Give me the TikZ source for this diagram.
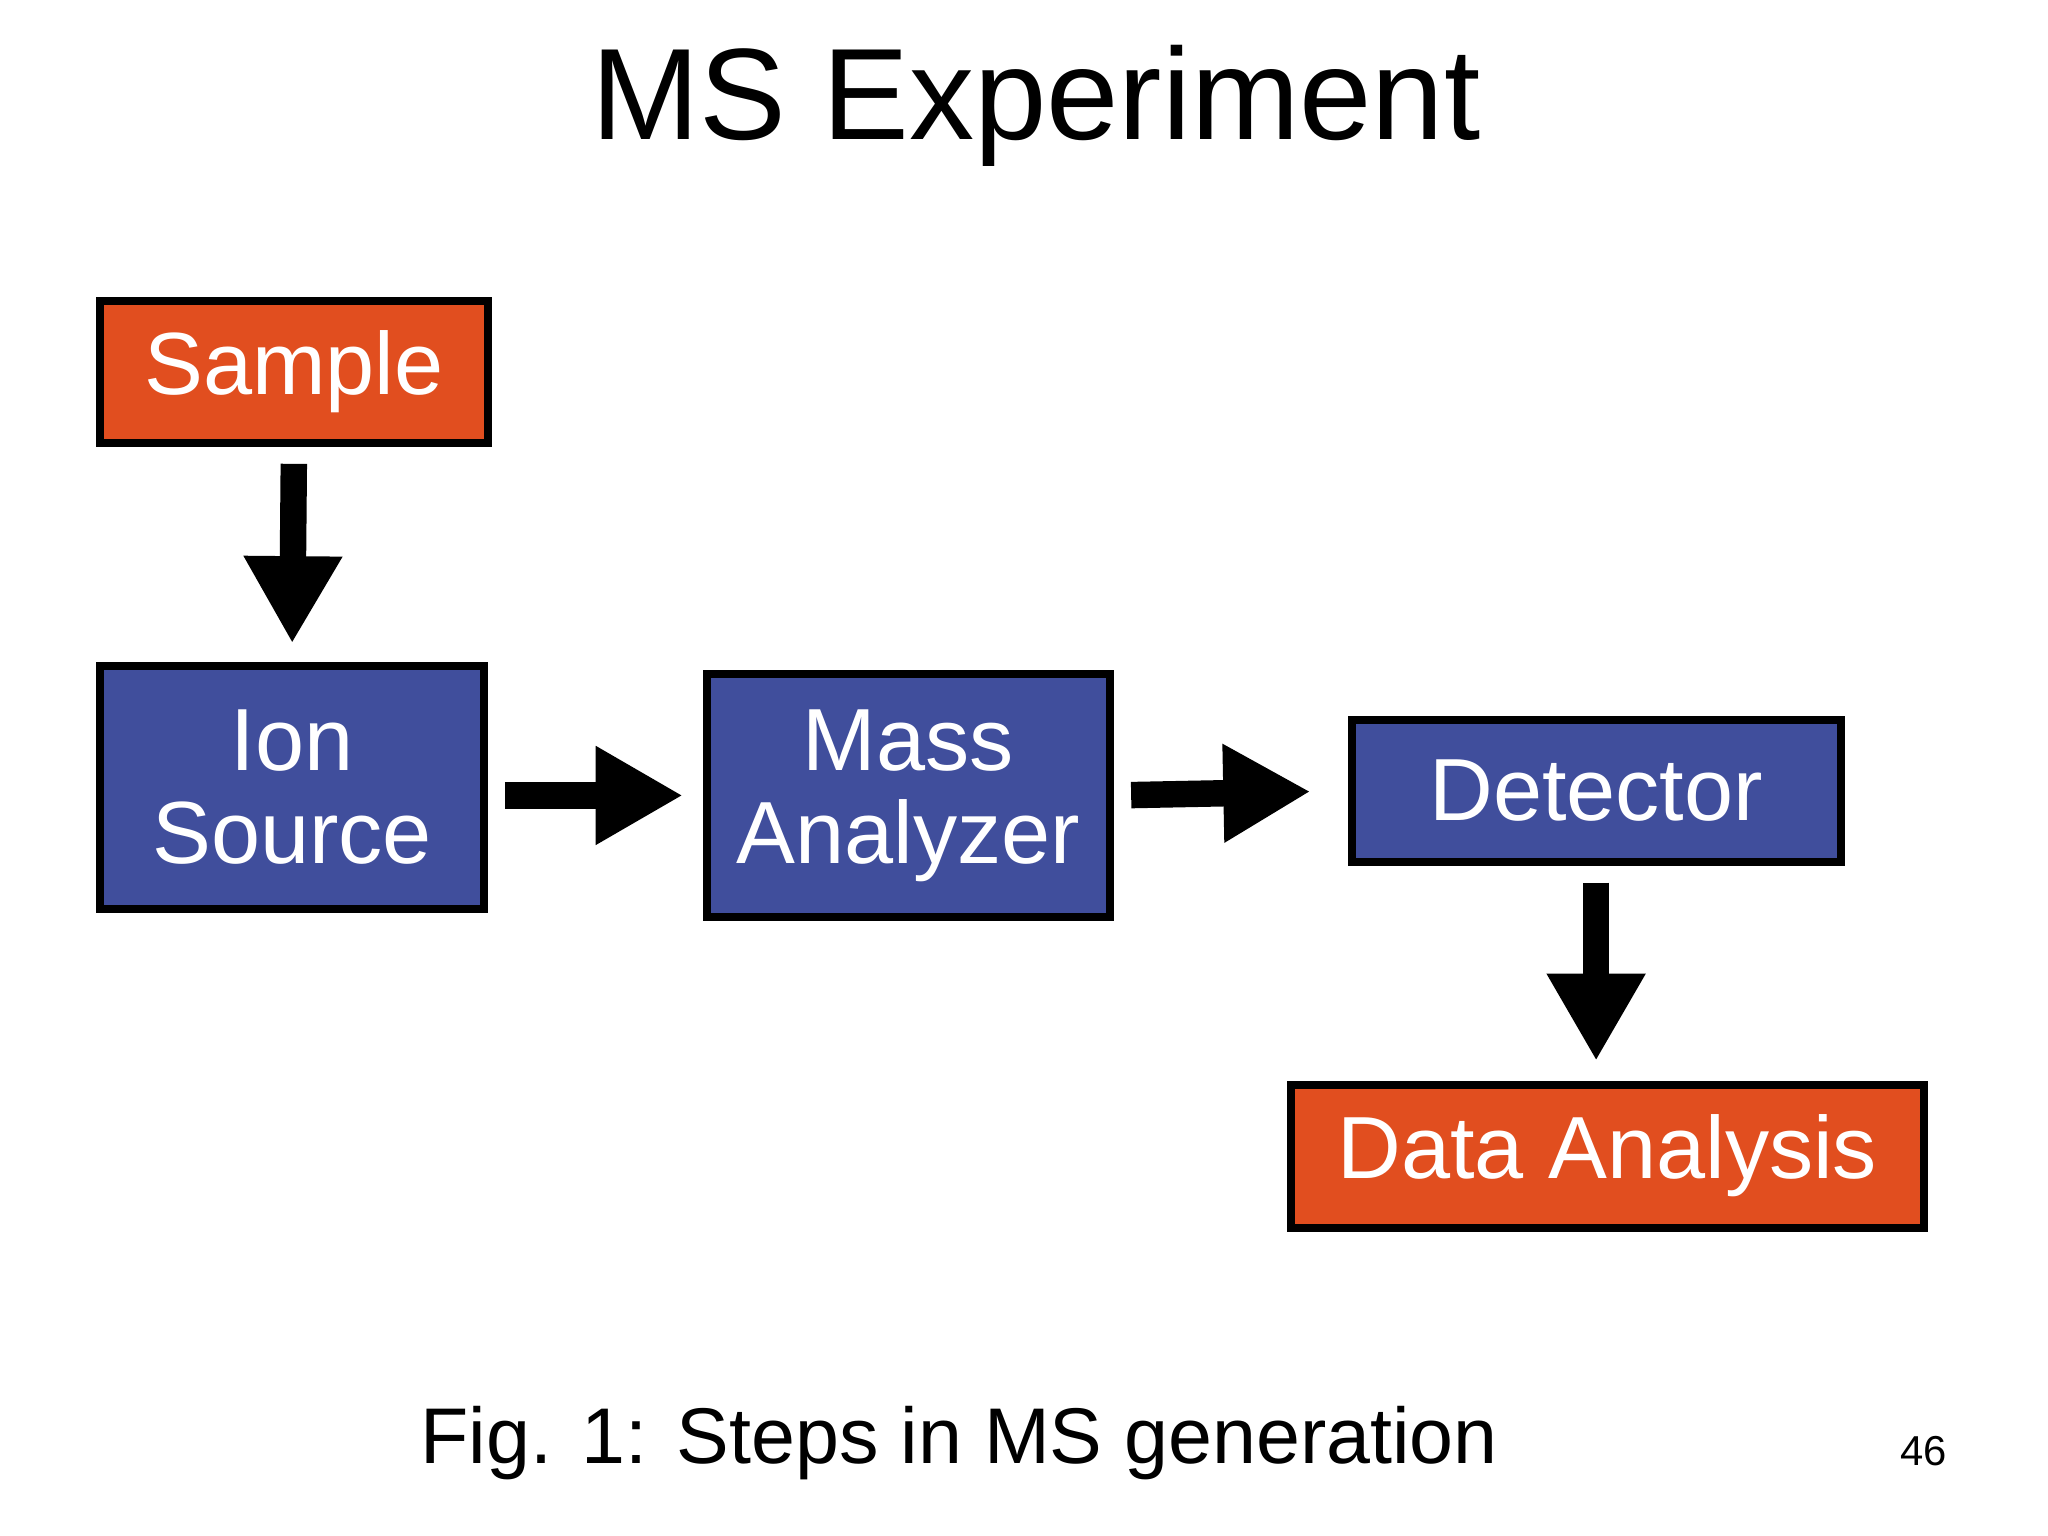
\documentclass[tikz,border=0pt]{standalone}
\usepackage{fontspec}
\setmainfont{Liberation Sans}
\usetikzlibrary{arrows.meta}
\definecolor{boxor}{HTML}{E14E1F}
\definecolor{boxbl}{HTML}{404E9C}
\begin{document}
\begin{tikzpicture}[x=0.01cm,y=-0.01cm,
  box/.style={draw=black,line width=0.06cm,text=white,font=\fontsize{19}{22}\selectfont,align=center,inner sep=0pt,minimum width=#1},
  org/.style={box=#1,fill=boxor},
  blu/.style={box=#1,fill=boxbl},
  arr/.style={line width=0.2cm,-{Triangle[length=0.66cm,width=0.7cm]}}]
\useasboundingbox (0,0) rectangle (1550,1162);
\node[font=\fontsize{28}{32}\selectfont] (title) at (784,80) {MS Experiment};
\node[org=2.93cm,minimum height=1.07cm] (sample) at (222.5,281.5) {Sample};
\node[blu=2.90cm,minimum height=1.84cm] (ion) at (221,596) {Ion\\[-2pt]Source};
\node[blu=3.05cm,minimum height=1.84cm] (mass) at (687.5,602) {Mass\\[-2pt]Analyzer};
\node[blu=3.70cm,minimum height=1.07cm] (det) at (1208,598.5) {Detector};
\node[org=4.79cm,minimum height=1.08cm] (data) at (1216.5,875) {Data Analysis};
\draw[arr,shorten <=0.13cm,shorten >=0.14cm] (sample.south) -- (ion.north);
\draw[arr,shorten <=0.13cm,shorten >=0.15cm] (ion.east|-mass.center) -- (mass.west);
\draw[arr,shorten <=0.13cm,shorten >=0.28cm] (mass.east) -- (det.west);
\draw[arr,shorten <=0.13cm,shorten >=0.15cm] (det.south) -- (det.south|-data.north);
\node[font=\fontsize{17}{20}\selectfont] (cap) at (726,1092) {Fig. 1: Steps in MS generation};
\node[font=\fontsize{9}{11}\selectfont] (pg) at (1456,1098) {46};
\end{tikzpicture}
\end{document}
